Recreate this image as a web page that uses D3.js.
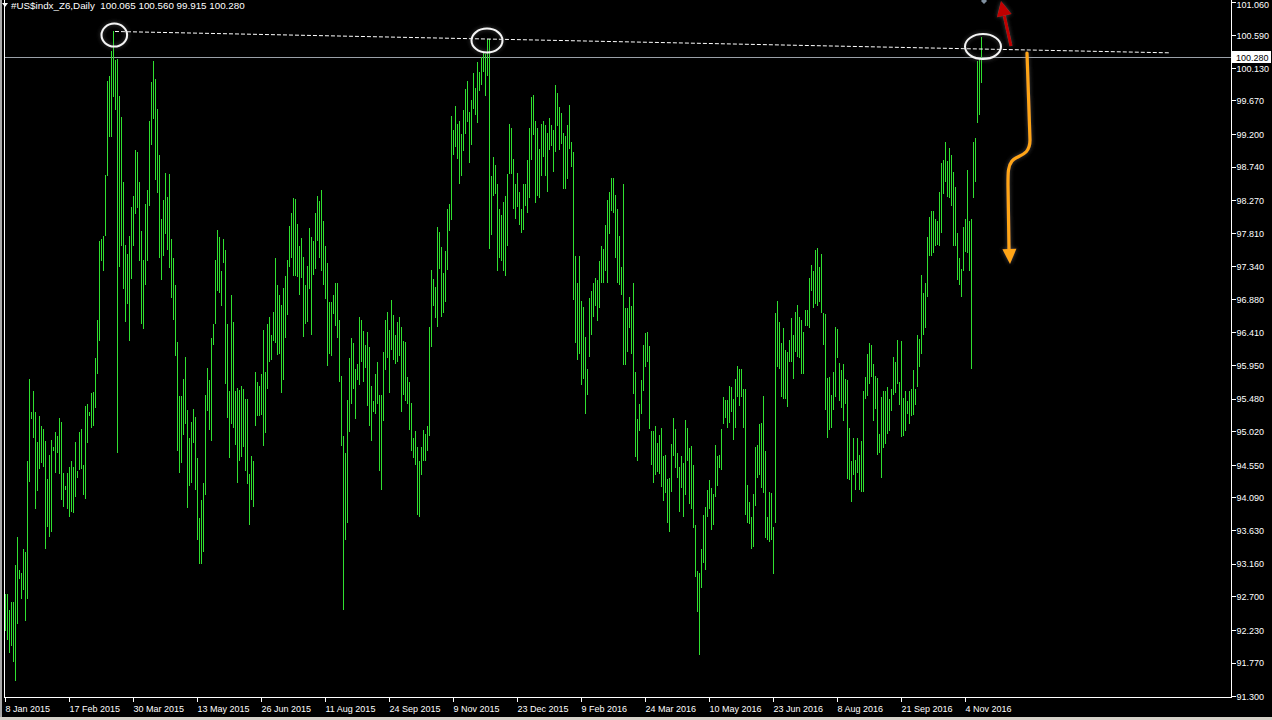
<!DOCTYPE html>
<html><head><meta charset="utf-8">
<script src="https://cdn.jsdelivr.net/npm/d3@7"></script>
<style>html,body{margin:0;padding:0;background:#000;overflow:hidden}</style>
</head><body>
<svg id="c" width="1272" height="720"></svg>
<script>
// ---------- data ----------
const symbol = "#US$indx_Z6";
const timeframe = "Daily";
const lastOpen = 100.065, lastHigh = 100.560, lastLow = 99.915, lastClose = 100.280;

const highs = [
92.73,92.73,92.51,92.62,92.62,93.14,93.54,93.07,93.03,93.37,
93.33,94.61,95.75,95.29,95.59,95.29,94.87,95.24,95.10,95.05,
94.89,94.35,94.69,94.90,94.80,95.01,94.96,95.21,95.15,94.43,
94.25,94.44,94.52,94.60,94.52,94.87,94.46,95.01,95.05,94.54,
95.38,95.41,95.29,95.56,95.57,96.05,96.58,97.70,97.72,97.77,
98.62,99.95,100.02,100.36,100.64,100.24,100.25,99.73,99.44,98.52,
97.64,97.51,97.77,98.18,98.33,98.97,98.95,98.53,97.83,97.43,
98.22,98.41,99.38,99.93,100.23,99.97,99.55,98.90,98.01,98.27,
98.65,98.31,98.63,97.72,97.45,97.08,96.27,95.52,95.52,95.75,
96.06,95.32,94.92,95.15,95.33,95.22,94.65,93.80,94.05,94.29,
95.53,95.91,95.74,96.33,96.53,97.43,97.85,97.75,97.27,97.72,
97.57,96.53,95.59,96.93,96.56,95.59,95.63,95.60,95.66,95.62,
95.48,95.48,94.42,
94.68,94.61,95.86,95.71,95.66,95.83,96.45,
95.86,96.53,96.63,96.37,96.70,97.45,97.08,96.93,96.79,97.04,
97.20,97.43,97.91,98.09,98.30,98.28,97.94,97.63,97.74,97.47,
97.07,97.34,97.88,97.75,97.69,98.09,98.33,98.26,98.41,97.97,
97.63,97.38,96.84,96.84,96.94,97.10,97.10,96.58,95.80,94.95,
94.72,95.46,96.05,96.33,96.26,95.89,95.97,96.63,96.59,96.43,
96.24,96.41,96.20,95.66,95.44,95.83,96.00,95.53,95.53,96.13,
96.58,96.70,96.45,96.86,96.66,96.37,96.56,96.63,96.49,96.29,
96.28,95.79,95.71,95.42,94.92,95.02,94.80,94.61,94.80,95.04,
94.98,95.09,96.49,97.29,97.16,97.05,97.89,97.82,97.61,97.25,
97.55,98.15,98.22,99.45,99.26,99.59,99.34,99.38,99.20,99.53,
99.83,99.94,99.51,99.67,100.05,99.84,100.21,100.07,100.28,100.34,
100.33,100.53,100.54,98.61,98.88,98.76,98.50,
98.15,98.06,98.24,
98.33,98.63,99.34,99.28,98.85,98.50,98.65,98.38,98.14,98.49,
98.49,98.84,99.29,99.72,99.75,99.38,99.28,98.99,99.34,99.38,
99.32,99.22,99.43,99.33,99.25,99.89,99.77,99.58,99.49,99.22,
99.17,99.32,99.60,99.08,98.94,97.48,97.11,97.48,96.85,96.77,
96.35,95.89,96.90,96.99,97.11,97.17,97.14,97.42,97.63,97.58,
97.92,98.27,98.38,98.58,98.58,98.34,98.15,97.77,97.33,98.50,
96.75,96.75,96.91,96.78,97.10,95.86,95.19,95.41,95.74,96.24,
96.40,96.41,96.22,95.02,95.02,95.09,94.86,94.97,95.06,94.68,
94.69,94.35,94.37,94.84,95.21,95.05,94.72,94.52,94.68,94.58,
95.18,95.06,94.78,94.82,94.55,93.71,93.05,93.03,93.37,93.85,
93.96,94.20,94.34,94.22,94.14,94.83,94.68,94.69,95.05,95.50,
95.46,95.46,95.66,95.65,95.48,95.75,95.94,95.89,95.89,95.62,
95.62,94.26,94.03,93.82,94.14,94.80,94.83,95.13,95.14,95.51,
94.74,93.82,94.17,94.16,93.68,96.69,96.85,96.56,96.26,96.47,
96.16,96.14,96.31,96.61,96.37,96.70,96.79,96.63,96.58,96.41,
96.73,96.72,97.17,97.36,97.27,97.57,97.60,97.33,97.51,96.69,
96.67,95.77,95.79,95.53,95.85,96.49,96.46,95.98,95.88,95.96,
95.75,95.74,95.07,94.60,94.92,94.62,94.92,94.69,94.89,95.58,
95.79,96.11,96.26,96.24,95.96,95.80,95.77,94.98,95.50,95.59,
95.59,95.64,95.47,95.61,96.06,95.99,96.30,95.72,96.29,95.49,
95.59,95.44,95.59,95.62,95.88,95.62,96.38,96.32,97.22,96.96,
97.10,97.75,98.03,98.12,98.12,98.00,97.97,98.39,98.79,98.83,
99.08,98.82,99.00,98.91,98.67,98.45,97.81,97.46,97.30,97.89,
98.00,98.70,97.98,98.00,99.08,99.14,100.22,100.25,100.56
];

const lows = [
92.21,92.09,91.90,92.00,91.78,91.51,92.31,92.95,92.67,92.79,
92.35,92.67,94.31,95.19,94.92,93.93,94.18,94.49,94.58,94.52,
93.37,93.68,93.53,93.61,94.74,94.43,94.71,94.42,94.05,93.96,
94.20,93.93,93.82,93.88,93.87,94.10,94.37,94.47,94.49,94.13,
94.07,94.86,95.24,95.07,95.10,95.35,95.83,96.29,97.42,97.28,
97.77,98.61,99.16,99.16,99.72,99.54,94.71,97.33,97.63,97.02,
96.55,96.81,96.29,97.16,97.63,98.07,98.16,97.42,96.53,96.46,
97.07,97.41,98.19,99.05,99.41,98.55,98.37,97.45,97.14,97.49,
97.80,97.57,97.31,96.90,96.58,96.08,94.74,94.44,94.58,94.97,
95.13,93.94,94.25,94.30,94.86,94.19,93.49,93.15,93.15,93.32,
94.12,95.30,95.04,94.88,96.24,96.53,96.99,96.96,96.78,97.39,
95.68,95.21,94.65,95.13,95.07,94.83,94.29,94.61,94.66,94.80,
94.46,94.28,93.70,
94.05,93.96,95.10,95.24,95.24,95.25,94.82,
94.99,95.62,96.00,96.02,96.29,96.26,96.09,96.11,95.56,95.74,
96.33,96.66,97.33,97.45,97.21,97.21,97.19,96.94,97.17,96.35,
96.53,96.55,97.02,96.37,97.22,97.30,97.69,97.45,97.27,97.07,
96.88,95.94,96.11,96.08,96.67,96.50,96.33,95.71,94.82,92.51,
93.49,93.73,95.01,95.41,95.62,95.19,95.74,95.67,95.99,95.71,
95.91,95.38,95.10,94.89,95.29,95.27,95.41,94.46,94.19,95.16,
95.88,96.05,95.56,96.17,96.02,95.97,95.99,96.08,95.29,95.53,
95.45,95.41,95.04,94.74,94.65,94.55,93.85,93.82,94.40,94.60,
94.61,94.74,94.96,96.21,96.78,96.61,96.49,97.30,96.63,96.69,
96.84,97.29,97.83,97.99,98.90,99.02,98.85,98.50,98.61,98.96,
99.20,99.37,98.79,99.05,99.55,99.47,99.35,99.81,99.89,100.07,
99.73,100.01,97.58,97.78,98.33,98.36,97.28,
97.45,97.42,97.27,
97.21,97.62,98.64,98.63,98.15,98.00,98.18,97.92,97.81,97.85,
98.19,98.09,98.30,98.83,99.19,98.23,98.33,98.30,98.61,98.88,
98.61,98.38,98.97,99.03,98.67,98.94,99.31,98.97,99.06,98.43,
98.43,98.57,98.99,98.73,96.87,96.26,96.02,96.11,95.67,95.75,
95.27,95.53,96.06,96.38,96.63,96.78,96.57,96.75,97.11,97.11,
97.27,97.10,97.80,98.12,98.09,97.45,97.11,97.08,96.93,95.95,
95.95,96.14,96.47,96.11,95.55,94.66,94.60,95.02,95.27,95.59,
95.92,96.00,95.05,94.55,94.29,94.40,94.45,94.42,94.24,94.04,
94.16,93.73,93.61,94.17,94.68,94.51,94.37,93.88,94.23,93.82,
94.13,94.61,94.00,93.93,93.66,92.97,92.48,91.87,92.82,93.17,
93.07,93.82,93.93,93.64,93.71,94.10,94.25,94.50,94.47,95.13,
95.21,95.07,95.14,95.29,94.90,95.06,95.50,95.38,95.50,95.07,
93.85,93.73,93.72,93.37,93.40,93.97,94.36,94.41,94.22,94.16,
93.52,93.49,93.46,93.49,93.01,93.73,95.93,95.89,95.50,95.48,
95.47,95.36,95.99,96.00,95.75,96.14,96.06,96.05,95.82,95.82,
96.50,96.50,96.47,96.99,96.75,96.81,96.78,96.84,96.69,96.23,
95.32,94.92,95.04,95.07,95.32,95.50,96.05,95.44,95.35,95.16,
95.41,94.35,94.33,94.02,94.40,94.19,94.43,94.19,94.17,94.17,
95.48,95.51,95.68,95.79,95.16,95.33,94.69,94.71,94.37,94.78,
94.84,94.98,95.02,95.30,95.53,95.56,95.69,95.39,94.94,94.95,
95.02,95.27,95.13,95.24,95.25,95.39,95.65,95.92,96.10,96.38,
96.47,96.91,97.48,97.48,97.52,97.63,97.64,97.63,97.81,98.36,
98.52,98.31,98.30,98.19,97.63,97.63,97.14,97.07,96.91,97.27,
97.54,97.52,97.27,95.89,98.30,98.53,99.35,99.46,99.915
];

const dateLabels = ["8 Jan 2015","17 Feb 2015","30 Mar 2015","13 May 2015","26 Jun 2015",
  "11 Aug 2015","24 Sep 2015","9 Nov 2015","23 Dec 2015","9 Feb 2016","24 Mar 2016",
  "10 May 2016","23 Jun 2016","8 Aug 2016","21 Sep 2016","4 Nov 2016"];
const dateLabelBars = [0,32,64,96,128,160,192,224,256,288,320,352,384,416,448,480];

const priceTicks = [101.060,100.590,100.130,99.670,99.200,98.740,98.270,97.810,97.340,
  96.880,96.410,95.950,95.480,95.020,94.550,94.090,93.630,93.160,92.700,92.230,91.770,91.300];

// annotations, in (bar index, price)
const trendBars = [55, 582];
const trendPrices = [100.64, 100.34];
const circleBars = [54.65, 241, 489];
const circlePrices = [100.59, 100.512, 100.428];
const redArrowBars = [503, 498];
const redArrowPrices = [100.436, 101.068];
const orangeBars = [511, 512.5, 512.5, 505.5, 503.5, 501.5, 501.5, 501.5, 502];
const orangePrices = [100.337, 99.114, 98.875, 98.904, 98.819, 98.749, 98.665, 98.482, 97.583];
const orangeTip = [502.5, 97.372];
const markerBar = 489.5, markerPrice = 101.07;

// ---------- drawing ----------
const W = 1272, H = 720;
const svg = d3.select("#c");
const font = "'Liberation Sans', Arial, sans-serif";

const x = d3.scaleLinear().domain([0, 488]).range([5, 981]);
const y = d3.scaleLinear().domain([91.30, 101.06]).range([696, 1.6]);

svg.append("rect").attr("width", W).attr("height", H).attr("fill", "#000");

const defs = svg.append("defs");
const f = defs.append("filter").attr("id", "glow").attr("x", "-50%").attr("y", "-50%").attr("width", "200%").attr("height", "200%");
f.append("feDropShadow").attr("dx", 0).attr("dy", 0).attr("stdDeviation", 2).attr("flood-color", "#6a6a6a").attr("flood-opacity", 0.7);

// price line
const yc = Math.round(y(lastClose)) + 0.5;
svg.append("line").attr("x1", 5).attr("x2", 1231).attr("y1", yc).attr("y2", yc)
  .attr("stroke", "#9aa0a8").attr("stroke-width", 1);

// bars
const n = Math.min(highs.length, lows.length);
const bars = d3.range(n).map(i => ({ i, h: highs[i], l: lows[i] }));
svg.append("g").attr("shape-rendering", "crispEdges").selectAll("rect").data(bars).join("rect")
  .attr("x", d => Math.round(x(d.i)))
  .attr("y", d => Math.round(y(d.h)))
  .attr("width", 1)
  .attr("height", d => Math.max(1, Math.round(y(d.l)) - Math.round(y(d.h))))
  .attr("fill", "#30e030");

// frame
svg.append("rect").attr("x", 0).attr("y", 0).attr("width", 2).attr("height", H).attr("fill", "#a8a8a8");
svg.append("rect").attr("x", 0).attr("y", 717).attr("width", W).attr("height", 3).attr("fill", "#d4d0c8");
const frame = svg.append("g").attr("stroke", "#ffffff").attr("stroke-width", 1).attr("shape-rendering", "crispEdges");
frame.append("line").attr("x1", 4.5).attr("x2", 4.5).attr("y1", 0).attr("y2", 697);
frame.append("line").attr("x1", 4).attr("x2", 1232).attr("y1", 697.5).attr("y2", 697.5);
frame.append("line").attr("x1", 1231.5).attr("x2", 1231.5).attr("y1", 0).attr("y2", 697);

// right axis
const ya = svg.append("g").attr("transform", "translate(1231.5,0)")
  .call(d3.axisRight(y).tickValues(priceTicks).tickFormat(d3.format(".3f")).tickSize(4).tickSizeOuter(0));
ya.select(".domain").remove();
ya.selectAll(".tick line").attr("stroke", "#fff").attr("shape-rendering", "crispEdges");
ya.selectAll(".tick text").attr("fill", "#fff").attr("x", 5).attr("dy", "0.36em")
  .style("font-family", font).style("font-size", "9px");
// keep the top label inside the picture
ya.selectAll(".tick").filter(d => y(d) < 5).select("text").attr("dy", "0.62em");

// bottom axis
const xa = svg.append("g").attr("transform", "translate(0,697.5)")
  .call(d3.axisBottom(x).tickValues(dateLabelBars).tickFormat((d, k) => dateLabels[k]).tickSize(4).tickSizeOuter(0));
xa.select(".domain").remove();
xa.selectAll(".tick line").attr("stroke", "#fff").attr("shape-rendering", "crispEdges");
xa.selectAll(".tick text").attr("fill", "#fff").attr("text-anchor", "start").attr("x", 0).attr("y", 14).attr("dy", 0)
  .style("font-family", font).style("font-size", "9px");

// current price label
svg.append("rect").attr("x", 1232).attr("y", Math.round(y(lastClose)) - 6).attr("width", 39).attr("height", 12).attr("fill", "#fff");
svg.append("text").attr("x", 1236).attr("y", Math.round(y(lastClose)) + 3.5).text(d3.format(".3f")(lastClose))
  .attr("fill", "#000").style("font-family", font).style("font-size", "9px");

// title
svg.append("path").attr("d", "M2,3 L8,3 L5,7 Z").attr("fill", "#fff");
svg.append("text").attr("x", 11).attr("y", 9)
  .text(`${symbol},${timeframe}  ${lastOpen.toFixed(3)} ${lastHigh.toFixed(3)} ${lastLow.toFixed(3)} ${lastClose.toFixed(3)}`)
  .attr("fill", "#fff").style("font-family", font).style("font-size", "9.8px").attr("xml:space", "preserve").style("white-space", "pre");

// trendline (dashed)
svg.append("line")
  .attr("x1", x(trendBars[0])).attr("y1", y(trendPrices[0]))
  .attr("x2", x(trendBars[1])).attr("y2", y(trendPrices[1]))
  .attr("stroke", "#fff").attr("stroke-width", 1).attr("stroke-dasharray", "4,2");

// circles
const radii = [[12.8, 11.5], [15.5, 12], [18, 12.5]];
svg.append("g").attr("filter", "url(#glow)").selectAll("ellipse").data(circleBars).join("ellipse")
  .attr("cx", (d, k) => x(d)).attr("cy", (d, k) => y(circlePrices[k]))
  .attr("rx", (d, k) => radii[k][0]).attr("ry", (d, k) => radii[k][1])
  .attr("fill", "none").attr("stroke", "#f4f4f4").attr("stroke-width", 2);

// marker
const mx = x(markerBar), my = y(markerPrice);
svg.append("path").attr("d", `M${mx - 3},${my} L${mx},${my + 3} L${mx + 3},${my} L${mx},${my - 3} Z`).attr("fill", "#8090a0");

// arrowhead helper
function arrowHead(bx, by, tx, ty, len, half) {
  const dx = tx - bx, dy = ty - by, L = Math.hypot(dx, dy);
  const ux = dx / L, uy = dy / L;
  const cx = tx - ux * len, cy = ty - uy * len;
  return { base: [cx, cy], pts: [[tx, ty], [cx - uy * half, cy + ux * half], [cx + uy * half, cy - ux * half]] };
}

// red arrow
{
  const bx = x(redArrowBars[0]), by = y(redArrowPrices[0]);
  const tx = x(redArrowBars[1]), ty = y(redArrowPrices[1]);
  const h = arrowHead(bx, by, tx, ty, 15, 7.5);
  const g = svg.append("g").attr("filter", "url(#glow)");
  g.append("line").attr("x1", bx).attr("y1", by).attr("x2", h.base[0]).attr("y2", h.base[1])
    .attr("stroke", "#c00000").attr("stroke-width", 3);
  g.append("path").attr("d", "M" + h.pts.map(p => p.join(",")).join("L") + "Z").attr("fill", "#c00000");
}

// orange arrow
{
  const P = orangeBars.map((b, k) => [x(b), y(orangePrices[k])]);
  const d = `M${P[0]} L${P[1]} C${P[2]} ${P[3]} ${P[4]} C${P[5]} ${P[6]} ${P[7]} L${P[8]}`;
  const tx = x(orangeTip[0]), ty = y(orangeTip[1]);
  const h = arrowHead(P[8][0], P[8][1] - 10, tx, ty, 15, 7);
  const g = svg.append("g").attr("filter", "url(#glow)");
  g.append("path").attr("d", d).attr("fill", "none").attr("stroke", "#ffa514").attr("stroke-width", 3.2).attr("stroke-linecap", "round");
  g.append("path").attr("d", "M" + h.pts.map(p => p.join(",")).join("L") + "Z").attr("fill", "#ffa514");
}
</script>
</body></html>
